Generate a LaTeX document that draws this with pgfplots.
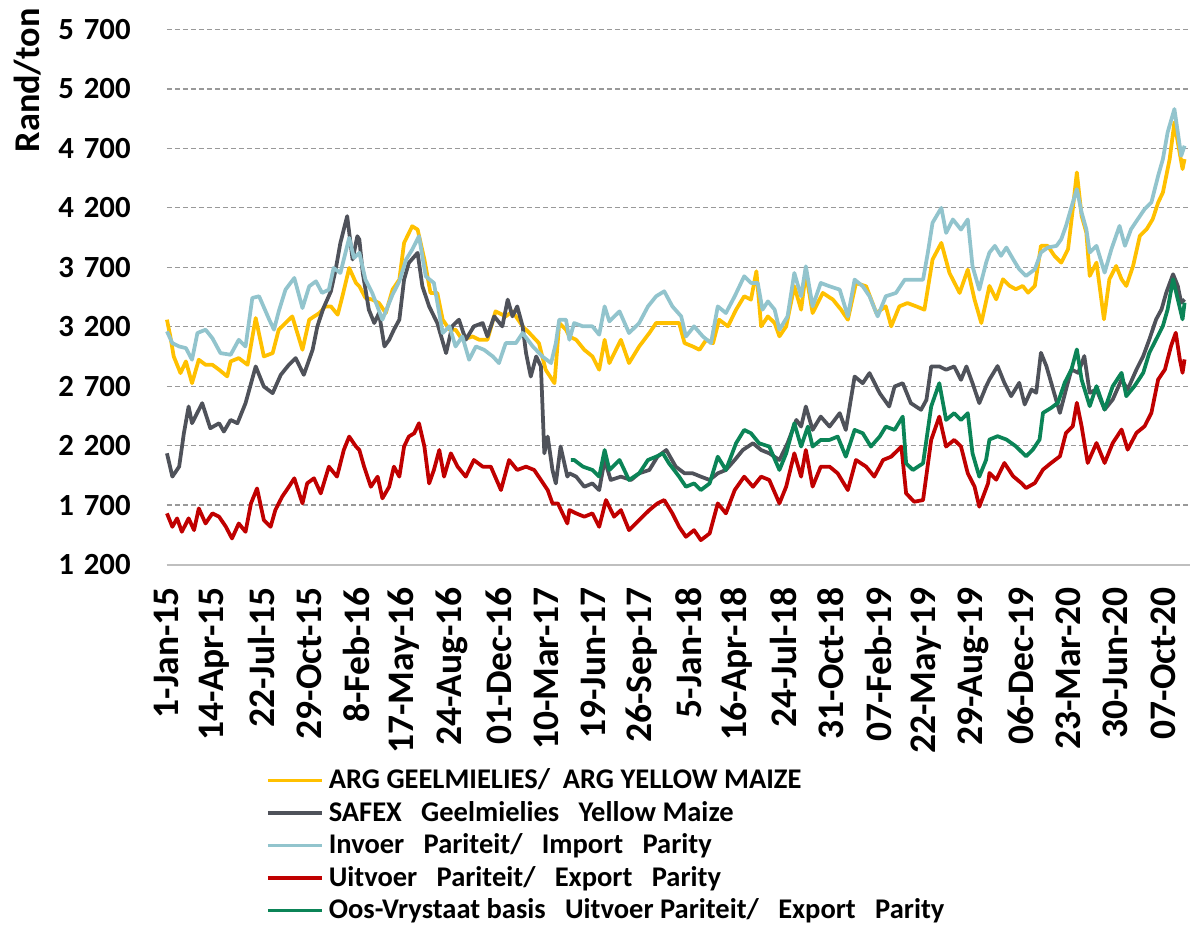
\documentclass[border=0pt]{standalone}
\usepackage{fontspec}
\setmainfont{Carlito}
\usepackage{pgfplots}
\pgfplotsset{compat=1.18}

\definecolor{argyellow}{HTML}{FFC000}
\definecolor{safexgrey}{HTML}{4F525A}
\definecolor{importteal}{HTML}{92C4CD}
\definecolor{exportred}{HTML}{C00000}
\definecolor{ovsgreen}{HTML}{0B8457}

\newcommand{\ts}{\hspace{0.32em}}

\begin{document}
\begin{tikzpicture}
  \begin{axis}[
      scale only axis, width=409.2pt, height=214pt,
      xmin=0, xmax=1510, ymin=1200, ymax=5700,
      clip=false,
      axis x line*=bottom, axis y line*=left,
      x axis line style={draw=black!25, line width=0.8pt},
      y axis line style={draw=none},
      tick style={draw=none},
      ymajorgrids,
      grid style={draw=black!40, line width=0.5pt, dash pattern=on 2pt off 1.2pt},
      ytick={1200,1700,2200,2700,3200,3700,4200,4700,5200,5700},
      yticklabels={1\ts200,1\ts700,2\ts200,2\ts700,3\ts200,3\ts700,4\ts200,4\ts700,5\ts200,5\ts700},
      xtick={0,70,140,210,280,350,420,490,560,630,700,770,840,910,980,1050,1120,1190,1260,1330,1400,1470},
      xticklabels={1-Jan-15,14-Apr-15,22-Jul-15,29-Oct-15,8-Feb-16,17-May-16,24-Aug-16,01-Dec-16,
        10-Mar-17,19-Jun-17,26-Sep-17,5-Jan-18,16-Apr-18,24-Jul-18,31-Oct-18,07-Feb-19,
        22-May-19,29-Aug-19,06-Dec-19,23-Mar-20,30-Jun-20,07-Oct-20},
      yticklabel style={font=\bfseries\fontsize{12.3}{14}\selectfont},
      xticklabel style={rotate=90, anchor=east, font=\bfseries\fontsize{15}{17}\selectfont},
      xticklabel shift=5.5pt, yticklabel shift=11pt,
      legend style={at={(axis description cs:0.089,-0.362)}, anchor=north west,
        draw=none, fill=none, row sep=-0.5pt,
        font=\bfseries\fontsize{11.4}{12}\selectfont},
      legend cell align=left,
      legend image code/.code={\draw[#1] (0cm,0cm) -- (0.76cm,0cm);},
      every axis plot/.append style={line width=1.5pt, line join=round},
    ]
    % ARG yellow maize
    \addplot[argyellow] coordinates {
      (0,3259) (5,3118) (10,2950) (20,2810) (28,2908) (37,2725) (47,2922) (57,2880) (67,2880) (77,2838)
      (89,2782) (94,2908) (106,2936) (119,2880) (131,3273) (143,2950) (156,2978) (165,3175) (185,3287) (200,3006)
      (210,3259) (225,3315) (234,3371) (242,3371) (252,3301) (259,3456) (269,3694) (279,3568)
      (284,3540) (293,3442) (303,3428) (313,3399) (323,3315) (333,3512) (343,3596) (350,3905) (362,4045) (370,4017)
      (380,3765) (389,3484) (399,3484) (407,3259) (417,3175) (426,3175) (436,3090) (451,3118) (461,3090) (473,3090)
      (485,3329) (500,3287) (510,3329) (525,3203) (535,3147) (549,3062) (559,2838) (572,2725) (579,3231) (589,3175)
      (594,3118) (604,3090) (616,3006) (628,2950) (638,2838) (646,3090) (653,2894) (670,3090) (682,2894) (697,3034)
      (712,3147) (722,3231) (734,3231) (746,3231) (756,3231) (764,3062) (776,3034) (786,3006) (796,3090) (806,3062)
      (815,3259) (828,3203) (840,3343) (852,3456) (862,3428) (870,3666) (877,3203) (887,3287) (897,3231)
      (904,3119) (914,3203) (926,3540) (936,3343) (943,3652) (953,3315) (968,3484) (983,3428) (995,3343) (1005,3259)
      (1017,3568) (1032,3540) (1047,3315) (1061,3371) (1069,3203) (1081,3371) (1093,3399) (1106,3371) (1118,3343) (1130,3765)
      (1143,3905) (1155,3652) (1170,3484) (1182,3680) (1192,3428) (1202,3231)
      (1214,3543) (1224,3430) (1234,3599) (1244,3543) (1253,3515) (1263,3543) (1271,3486) (1281,3543) (1290,3880) (1300,3880)
      (1310,3796) (1320,3739) (1330,3852) (1337,4189) (1343,4498) (1350,4133) (1357,3992) (1362,3627) (1372,3739) (1383,3262)
      (1391,3599) (1401,3711) (1409,3599) (1416,3543) (1426,3711) (1436,3964) (1446,4020) (1455,4105) (1463,4245) (1470,4329)
      (1480,4610) (1487,4919) (1492,4751) (1499,4526) (1502,4610)
    };
    \addlegendentry{ARG GEELMIELIES/\ \ ARG YELLOW MAIZE}
    % SAFEX yellow maize
    \addplot[safexgrey] coordinates {
      (0,2135) (8,1939) (18,2023) (25,2304) (32,2529) (37,2388) (52,2557) (64,2346) (77,2388) (84,2318)
      (94,2416) (104,2388) (116,2557) (131,2866) (143,2697) (156,2641) (168,2795) (180,2880) (190,2936) (202,2795)
      (215,3006) (222,3203) (231,3357) (242,3498) (249,3680) (256,3905) (266,4130) (274,3765) (281,3961)
      (284,3933) (289,3652) (298,3343) (306,3231) (313,3315) (321,3034) (328,3090) (335,3175) (343,3259) (350,3596)
      (357,3737) (370,3821) (377,3540) (387,3371) (399,3231) (412,2978) (421,3203) (431,3259) (441,3090) (453,3203)
      (466,3231) (473,3118) (483,3287) (495,3203) (503,3428) (510,3287) (517,3371) (525,3203) (530,2978) (537,2781)
      (545,2950) (552,2866) (557,2135) (562,2276) (569,1995) (574,1882) (581,2192) (591,1939)
      (594,1967) (604,1939) (616,1854) (628,1882) (638,1826) (646,2079) (655,1911) (670,1939) (685,1911) (697,1967)
      (712,1995) (724,2107) (737,2163) (751,2023) (764,1967) (776,1967) (788,1939) (801,1911) (813,1967) (825,1995)
      (838,2079) (850,2163) (865,2220) (877,2163) (889,2135) (904,2079)
      (916,2220) (929,2416) (936,2360) (943,2529) (953,2332) (965,2444) (978,2360) (993,2473) (1002,2332) (1015,2781)
      (1027,2725) (1037,2810) (1052,2641) (1066,2529) (1074,2697) (1086,2725) (1098,2557) (1113,2501) (1121,2585) (1128,2866)
      (1140,2866) (1150,2838) (1162,2866) (1172,2753) (1180,2866) (1189,2725) (1199,2557) (1209,2697)
      (1214,2756) (1226,2869) (1236,2728) (1246,2616) (1258,2728) (1266,2546) (1276,2672) (1283,2644) (1290,2981) (1298,2869)
      (1308,2672) (1318,2475) (1327,2672) (1335,2840) (1345,2812) (1354,2953) (1362,2644) (1372,2672) (1384,2503) (1396,2588)
      (1409,2756) (1418,2672) (1431,2840) (1441,2953) (1450,3093) (1460,3262) (1468,3346) (1475,3487) (1485,3641) (1492,3543)
      (1497,3402) (1502,3430)
    };
    \addlegendentry{SAFEX\ \ \ Geelmielies\ \ \ Yellow Maize}
    % Import parity
    \addplot[importteal] coordinates {
      (0,3161) (8,3062) (18,3034) (28,3020) (37,2922) (45,3147) (57,3175) (67,3104) (79,2978) (94,2964)
      (106,3090) (116,3034) (126,3442) (136,3456) (151,3259) (158,3175) (165,3329) (175,3512) (188,3610) (200,3357)
      (210,3540) (220,3582) (229,3484) (239,3512) (246,3694) (256,3652) (269,3947) (276,3779) (284,3821)
      (293,3596) (303,3484) (318,3259) (333,3470) (343,3582) (353,3765) (362,3849) (372,3961) (382,3624) (394,3568)
      (407,3147) (417,3203) (426,3034) (436,3118) (446,2922) (456,3034) (468,3006) (481,2950) (490,2894) (500,3062)
      (515,3062) (525,3147) (540,3034) (554,2950) (567,2894) (574,3062) (579,3259) (589,3259)
      (594,3090) (601,3231) (614,3203) (628,3203) (638,3133) (646,3371) (653,3245) (668,3329) (682,3147) (697,3231)
      (710,3371) (722,3456) (734,3498) (746,3371) (759,3287) (766,3118) (778,3203) (791,3118) (803,3062) (813,3371)
      (825,3315) (838,3456) (852,3624) (862,3568) (872,3568) (879,3343) (887,3413) (897,3343)
      (904,3175) (916,3287) (926,3652) (936,3456) (943,3708) (953,3371) (965,3568) (978,3540) (993,3512) (1005,3287)
      (1015,3596) (1027,3540) (1037,3456) (1049,3287) (1061,3456) (1076,3484) (1089,3596) (1101,3596) (1116,3596) (1123,3821)
      (1130,4074) (1143,4200) (1150,3989) (1160,4102) (1172,4017) (1182,4102) (1189,3708) (1199,3512) (1209,3737)
      (1214,3824) (1222,3880) (1231,3796) (1239,3866) (1249,3767) (1258,3683) (1268,3627) (1281,3683) (1290,3824) (1300,3866)
      (1313,3880) (1320,3936) (1327,4048) (1337,4245) (1343,4357) (1350,4161) (1357,4020) (1362,3824) (1372,3880) (1384,3655)
      (1394,3852) (1406,4048) (1414,3880) (1423,4020) (1433,4105) (1443,4189) (1453,4245) (1463,4470) (1470,4610) (1477,4835)
      (1487,5031) (1492,4835) (1497,4638) (1502,4722)
    };
    \addlegendentry{Invoer\ \ \ Pariteit/\ \ \ Import\ \ \ Parity}
    % Export parity
    \addplot[exportred] coordinates {
      (0,1630) (8,1517) (15,1588) (22,1475) (32,1588) (40,1489) (47,1672) (57,1545) (67,1630) (77,1602)
      (87,1517) (96,1419) (106,1545) (116,1475) (124,1714) (133,1840) (143,1574) (153,1517) (160,1658) (170,1770)
      (180,1854) (188,1925) (200,1714) (207,1883) (217,1925) (227,1798) (239,2023) (251,1939) (261,2163) (269,2276)
      (279,2192)
      (284,2163) (291,2023) (301,1854) (311,1939) (318,1756) (328,1854) (335,2023) (343,1939) (350,2192) (357,2276)
      (365,2304) (372,2388) (380,2192) (387,1882) (394,1995) (402,2163) (409,1939) (419,2135) (429,2023) (441,1939)
      (453,2079) (466,2023) (478,2023) (493,1826) (505,2079) (517,1995) (530,2023) (542,1995) (552,1911) (562,1826)
      (569,1714) (577,1714) (591,1545)
      (594,1658) (604,1630) (616,1602) (628,1630) (638,1517) (648,1742) (660,1602) (670,1658) (682,1489) (697,1574)
      (712,1658) (724,1714) (734,1742) (746,1630) (756,1517) (766,1433) (778,1489) (788,1405) (801,1461) (813,1714)
      (825,1630) (838,1826) (852,1939) (865,1854) (877,1939) (889,1911)
      (904,1714) (914,1855) (926,2135) (936,1939) (943,2163) (953,1855) (965,2023) (978,2023) (990,1967) (1005,1826)
      (1017,2079) (1032,2023) (1044,1939) (1057,2079) (1069,2107) (1084,2192) (1091,1798) (1103,1728) (1116,1742) (1128,2248)
      (1140,2444) (1150,2192) (1162,2248) (1172,2192) (1182,1967) (1192,1855) (1199,1686) (1212,1883)
      (1214,1970) (1224,1913) (1236,2054) (1249,1942) (1261,1885) (1268,1843) (1281,1885) (1293,1998) (1305,2054) (1318,2110)
      (1327,2307) (1337,2363) (1343,2560) (1350,2363) (1359,2054) (1372,2222) (1384,2054) (1396,2222) (1409,2335) (1418,2166)
      (1431,2307) (1443,2363) (1453,2475) (1463,2756) (1473,2840) (1482,3037) (1489,3149) (1495,2925) (1499,2812) (1502,2925)
    };
    \addlegendentry{Uitvoer\ \ \ Pariteit/\ \ \ Export\ \ \ Parity}
    % Eastern Free State basis export parity
    \addplot[ovsgreen] coordinates {
      (596,2079) (601,2079) (614,2023) (628,1995) (638,1939) (646,2163) (653,1995) (668,2079) (682,1911) (697,1967)
      (710,2079) (722,2107) (732,2135) (741,2051) (756,1939) (766,1854) (778,1882) (788,1826) (801,1882) (813,2107)
      (825,1995) (840,2220) (852,2332) (862,2304) (874,2220) (889,2192) (904,1995)
      (914,2135) (926,2388) (936,2192) (946,2360) (953,2192) (965,2248) (978,2248) (990,2276) (1002,2107) (1015,2332)
      (1027,2304) (1039,2192) (1052,2276) (1061,2360) (1074,2332) (1086,2444) (1091,2051) (1101,1995) (1116,2051) (1128,2529)
      (1140,2725) (1150,2416) (1162,2473) (1172,2416) (1182,2473) (1189,2135) (1199,1939) (1209,2079)
      (1214,2251) (1226,2279) (1239,2251) (1253,2194) (1268,2110) (1278,2166) (1288,2251) (1293,2475) (1305,2517) (1315,2560)
      (1325,2728) (1335,2840) (1343,3009) (1350,2756) (1362,2532) (1372,2700) (1384,2503) (1396,2700) (1409,2812) (1416,2616)
      (1428,2700) (1441,2812) (1450,2981) (1460,3093) (1470,3206) (1477,3346) (1485,3599) (1492,3430) (1499,3262) (1502,3402)
    };
    \addlegendentry{Oos-Vrystaat basis\ \ \ Uitvoer Pariteit/\ \ \ Export\ \ \ Parity}
    \node[rotate=90, font=\bfseries\fontsize{14.5}{16}\selectfont] at (axis description cs:-0.136,0.905) {Rand/ton};
    % page frame matching the reference proportions
    \path (axis description cs:-0.1632,-0.6841) rectangle (axis description cs:1.0088,1.0505);
  \end{axis}
\end{tikzpicture}
\end{document}
